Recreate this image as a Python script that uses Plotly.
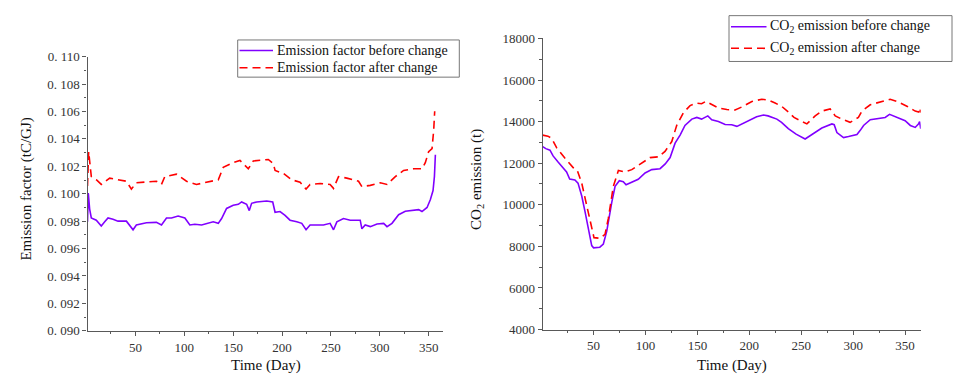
import plotly.graph_objects as go

# ---------------- data ----------------
ef_days_before = [1, 1.8, 3.2, 4.9, 10, 15.1, 18.6, 22, 27.1, 32.2, 40.8, 44.2, 47.6, 51, 54.4,
                  61.3, 71.5, 76.7, 81.8, 86.9, 93.7, 100.6, 105.7, 110.8, 117.7, 124.5, 129.6,
                  134.8, 138.2, 143.3, 150.1, 155.3, 158.7, 163.8, 166.5, 168.9, 174.1, 184.3,
                  190.5, 192.9, 198, 203.1, 208.2, 215.1, 220.2, 224.6, 228.7, 235.6, 242.4,
                  249.2, 252.7, 256.1, 262.9, 269.8, 280, 281.7, 285.1, 290.3, 297.2, 304,
                  307.4, 312.5, 319.3, 326.1, 334.7, 339.8, 343.2, 348.4, 351.8, 354.5, 355.9, 356.9]
ef_before = [0.09795, 0.10005, 0.09888, 0.09823, 0.09807, 0.09765, 0.09795, 0.09823, 0.09814,
             0.09800, 0.09800, 0.09772, 0.09737, 0.09772, 0.09779, 0.09788, 0.09791, 0.09772,
             0.09823, 0.09823, 0.09837, 0.09823, 0.09772, 0.09777, 0.09772, 0.09784, 0.09795,
             0.09784, 0.09819, 0.09893, 0.09916, 0.09923, 0.09940, 0.09923, 0.09877, 0.09930,
             0.09940, 0.09947, 0.09940, 0.09865, 0.09870, 0.09842, 0.09807, 0.09795, 0.09784,
             0.09737, 0.09772, 0.09772, 0.09772, 0.09784, 0.09737, 0.09795, 0.09819, 0.09807,
             0.09807, 0.09744, 0.09772, 0.09760, 0.09779, 0.09784, 0.09760, 0.09784, 0.09847,
             0.09872, 0.09877, 0.09884, 0.09870, 0.09900, 0.09958, 0.10023, 0.10125, 0.10284]

ef_days_after = [1, 2.2, 3.2, 3.9, 4.9, 10, 15.1, 23.7, 32.2, 40.8, 45.9, 51, 61.3, 71.5, 76.7,
                 80.1, 92, 102.3, 112.5, 122.8, 134.8, 139.9, 150.1, 157, 163.8, 165.5, 170.6,
                 180.9, 186, 191.1, 192.9, 201.4, 209.9, 218.5, 224.6, 228.7, 239, 249.2, 252.7,
                 257.8, 266.3, 278.3, 281.7, 290.3, 300.5, 307.4, 315.9, 324.4, 334.7, 343.2,
                 346.6, 350, 353.5, 355.2, 356.2]
ef_after = [0.10057, 0.10307, 0.10239, 0.10170, 0.10125, 0.10102, 0.10068, 0.10114, 0.10102,
            0.10091, 0.10034, 0.10080, 0.10086, 0.10091, 0.10068, 0.10125, 0.10143, 0.10091,
            0.10068, 0.10084, 0.10102, 0.10193, 0.10227, 0.10243, 0.10193, 0.10182, 0.10239,
            0.10243, 0.10250, 0.10220, 0.10170, 0.10148, 0.10102, 0.10084, 0.10034, 0.10068,
            0.10075, 0.10068, 0.10039, 0.10125, 0.10114, 0.10091, 0.10052, 0.10061, 0.10080,
            0.10068, 0.10125, 0.10170, 0.10182, 0.10182, 0.10227, 0.10307, 0.10330, 0.10466,
            0.10602]

co2_days_before = [1, 4, 8, 11, 16, 21, 24, 27, 32, 35, 38.6, 41.8, 45, 48.2, 50, 56, 59.4, 62.7,
                   67.5, 70.7, 74.8, 78.6, 81.3, 86.8, 93, 99.6, 106, 114, 119, 123.7, 128.5,
                   133.3, 138, 144.6, 149.4, 154, 160, 163.8, 170.2, 176.7, 183, 188, 192.8, 199,
                   207, 213.6, 218, 226.5, 231, 237.5, 245, 253.7, 261.7, 269.8, 279.5, 281.7,
                   284.3, 290.7, 295.5, 303.6, 306.8, 310, 316.4, 322.8, 330.8, 335, 342, 350,
                   355, 359.7, 363, 364, 365]
co2_before = [12800, 12700, 12627, 12350, 12040, 11780, 11580, 11240, 11195, 11040, 10420, 9655,
              8885, 8040, 7930, 7960, 8110, 8730, 10115, 10885, 11160, 11115, 10960, 11070,
              11225, 11530, 11690, 11735, 11965, 12270, 12965, 13350, 13815, 14120, 14200,
              14120, 14275, 14090, 14000, 13860, 13845, 13770, 13890, 14045, 14230, 14320,
              14275, 14120, 13965, 13660, 13400, 13165, 13425, 13690, 13890, 13850, 13475,
              13230, 13280, 13380, 13580, 13815, 14090, 14150, 14200, 14350, 14200, 14045,
              13815, 13720, 13900, 14000, 13660]

co2_days_after = [1, 6, 9.7, 14.5, 22.5, 30.5, 34.3, 38.6, 43.4, 47.3, 50.4, 56.2, 61, 64.2, 69,
                  73.9, 80.3, 86.8, 94.8, 104.4, 112.4, 118.8, 125.3, 130, 136.5, 142.9, 149.4,
                  154, 158, 163.8, 170.2, 178.3, 186.3, 194.3, 202.4, 212, 218, 224.8, 231,
                  237.5, 243, 249, 255.4, 263.4, 269.8, 277.8, 282.7, 289, 297, 305, 308.4,
                  316.4, 326, 335.6, 342, 351.7, 359.7, 363, 364, 365]
co2_after = [13350, 13300, 13195, 12735, 12240, 11780, 11655, 11040, 9960, 9040, 8420, 8390,
             8575, 9345, 10885, 11655, 11580, 11690, 11965, 12270, 12305, 12570, 13040, 13815,
             14430, 14770, 14890, 14860, 14970, 14810, 14660, 14580, 14555, 14740, 14970,
             15075, 15040, 14890, 14740, 14460, 14200, 14045, 13890, 14275, 14505, 14610,
             14275, 14120, 13965, 14200, 14505, 14810, 14935, 15075, 14970, 14740, 14505,
             14460, 14660, 14430]

ef_tickvals = [0.090, 0.092, 0.094, 0.096, 0.098, 0.100, 0.102, 0.104, 0.106, 0.108, 0.110]
ef_ticktext = ["0. 090", "0. 092", "0. 094", "0. 096", "0. 098", "0. 100",
               "0. 102", "0. 104", "0. 106", "0. 108", "0. 110"]
co2_tickvals = [4000, 6000, 8000, 10000, 12000, 14000, 16000, 18000]
co2_ticktext = ["4000", "6000", "8000", "10000", "12000", "14000", "16000", "18000"]
day_tickvals = [50, 100, 150, 200, 250, 300, 350]

ef_names = ["Emission factor before change", "Emission factor after change"]
co2_names = ["CO<sub>2</sub> emission before change", "CO<sub>2</sub> emission after change"]

# ---------------- styling ----------------
W, H = 956, 383
PURPLE = "#8000FF"
RED = "#FF0000"
AXC = "#595959"
SERIF = "Liberation Serif"
DASH = "8px,5px"

def px_x(p):
    return p / W

def px_y(p):
    return 1 - p / H

fig = go.Figure()

fig.add_trace(go.Scatter(x=ef_days_before, y=ef_before, mode="lines", name=ef_names[0],
                         line=dict(color=PURPLE, width=1.6), xaxis="x", yaxis="y",
                         showlegend=False))
fig.add_trace(go.Scatter(x=ef_days_after, y=ef_after, mode="lines", name=ef_names[1],
                         line=dict(color=RED, width=1.6, dash=DASH), xaxis="x", yaxis="y",
                         showlegend=False))
fig.add_trace(go.Scatter(x=co2_days_before, y=co2_before, mode="lines", name=co2_names[0],
                         line=dict(color=PURPLE, width=1.6), xaxis="x2", yaxis="y2",
                         showlegend=False))
fig.add_trace(go.Scatter(x=co2_days_after, y=co2_after, mode="lines", name=co2_names[1],
                         line=dict(color=RED, width=1.6, dash=DASH), xaxis="x2", yaxis="y2",
                         showlegend=False))

tickfont = dict(family=SERIF, size=13, color="#333333")
common_x = dict(showline=True, linecolor=AXC, linewidth=1.3, ticks="outside", ticklen=4,
                tickcolor=AXC, tickwidth=1, showgrid=False, zeroline=False,
                tickvals=day_tickvals, tickfont=tickfont, range=[1, 365],
                minor=dict(ticks="outside", ticklen=2.5, tickcolor=AXC, dtick=25, tick0=0,
                           showgrid=False))
common_y = dict(showline=True, linecolor=AXC, linewidth=1.3, ticks="outside", ticklen=4,
                tickcolor=AXC, tickwidth=1, showgrid=False, zeroline=False,
                tickfont=tickfont)

# ---- legend boxes (drawn manually for exact placement) ----
shapes = []
annotations = []

def add_legend(box, sample_x, rows, text_x, names):
    x0, y0, x1, y1 = box
    shapes.append(dict(type="rect", xref="paper", yref="paper",
                       x0=px_x(x0), x1=px_x(x1), y0=px_y(y1), y1=px_y(y0),
                       line=dict(color="#777777", width=1), fillcolor="white", layer="above"))
    styles = [dict(color=PURPLE, width=1.6), dict(color=RED, width=1.6, dash=DASH)]
    for yy, st, nm in zip(rows, styles, names):
        shapes.append(dict(type="line", xref="paper", yref="paper",
                           x0=px_x(sample_x[0]), x1=px_x(sample_x[1]),
                           y0=px_y(yy), y1=px_y(yy), line=st, layer="above"))
        annotations.append(dict(text=nm, x=px_x(text_x), y=px_y(yy), xref="paper",
                                yref="paper", showarrow=False, xanchor="left",
                                yanchor="middle",
                                font=dict(family=SERIF, size=14, color="#111111")))

add_legend((237.7, 34.3, 459.3, 73.0), (239.5, 273), (45.2, 63.3), 274.5, ef_names)
add_legend((729.0, 9.0, 952.0, 56.7), (731, 766.5), (20.5, 43.0), 767.5, co2_names)

annotations += [
    dict(text="Time (Day)", x=px_x(265.5), y=px_y(373), xref="paper", yref="paper",
         showarrow=False, xanchor="center", yanchor="middle",
         font=dict(family=SERIF, size=15, color="#111111")),
    dict(text="Time (Day)", x=px_x(731.7), y=px_y(373), xref="paper", yref="paper",
         showarrow=False, xanchor="center", yanchor="middle",
         font=dict(family=SERIF, size=15, color="#111111")),
    dict(text="Emission factor (tC/GJ)", x=px_x(27), y=px_y(190), xref="paper",
         yref="paper", showarrow=False, xanchor="center", yanchor="middle",
         textangle=-90, font=dict(family=SERIF, size=15, color="#111111")),
    dict(text="CO<sub>2</sub> emission (t)", x=px_x(477), y=px_y(180), xref="paper",
         yref="paper", showarrow=False, xanchor="center", yanchor="middle",
         textangle=-90, font=dict(family=SERIF, size=15, color="#111111")),
]

fig.update_layout(
    width=W, height=H,
    margin=dict(l=0, r=0, t=0, b=0),
    paper_bgcolor="white", plot_bgcolor="white",
    showlegend=False,
    xaxis=dict(domain=[px_x(87.5), px_x(443.3)], anchor="y", **common_x),
    yaxis=dict(domain=[px_y(337), px_y(51.7)], anchor="x", range=[0.090, 0.110],
               tickvals=ef_tickvals, ticktext=ef_ticktext,
               minor=dict(ticks="outside", ticklen=2.5, tickcolor=AXC, dtick=0.001,
                          tick0=0.090, showgrid=False),
               **common_y),
    xaxis2=dict(domain=[px_x(542.7), px_x(920.7)], anchor="y2", **common_x),
    yaxis2=dict(domain=[px_y(335.7), px_y(32.7)], anchor="x2", range=[4000, 18000],
                tickvals=co2_tickvals, ticktext=co2_ticktext,
                minor=dict(ticks="outside", ticklen=2.5, tickcolor=AXC, dtick=1000,
                           tick0=4000, showgrid=False),
                **common_y),
    shapes=shapes,
    annotations=annotations,
)

fig.write_html("out.html")
